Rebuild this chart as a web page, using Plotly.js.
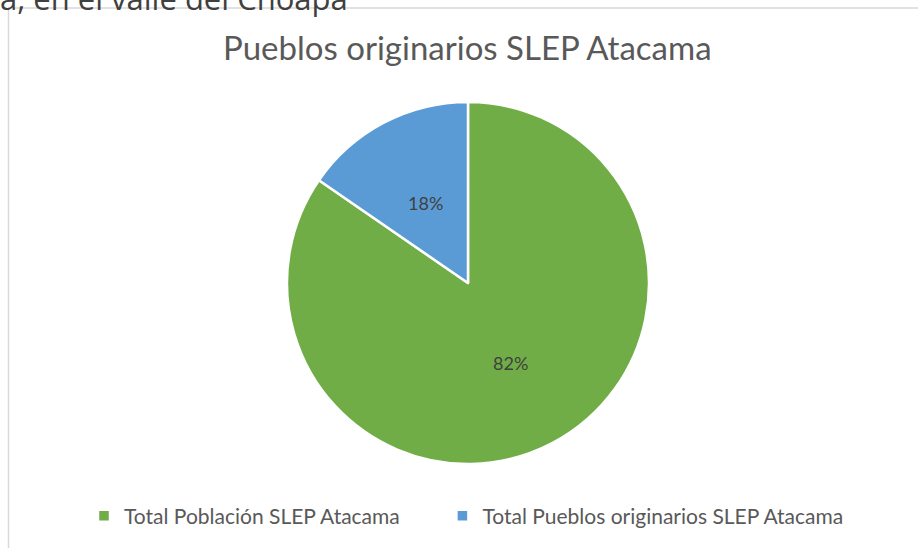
<!DOCTYPE html>
<html>
<head>
<meta charset="utf-8">
<script src="https://cdn.plot.ly/plotly-3.0.1.min.js"></script>
<style>
  html, body { margin: 0; padding: 0; background: #fff; }
  #chart { width: 918px; height: 548px; }
</style>
</head>
<body>
<div id="chart"></div>
<script>
// slice shares as drawn, and the labels printed on the slices
var categories = ['Total Población SLEP Atacama', 'Total Pueblos originarios SLEP Atacama'];
var shares = [84.6, 15.4];
var sliceLabels = ['82%', '18%'];
var colors = ['#70AD47', '#5B9BD5'];

var W = 918, H = 548;
var pieDomX = [0.3126, 0.7070], pieDomY = [0.1533, 0.8139];

// wider gap between the two legend entries, as in the original
var pad = '\u00a0\u00a0\u00a0\u00a0\u00a0\u00a0\u00a0';
var legendLabels = categories.map(function (c, i) {
    return i < categories.length - 1 ? c + pad : c;
});

var trace = {
    type: 'pie',
    labels: legendLabels,
    values: shares,
    textinfo: 'none',
    hoverinfo: 'none',
    sort: false,
    direction: 'clockwise',
    rotation: 0,
    marker: { colors: colors, line: { color: '#ffffff', width: 2.5 } },
    domain: { x: pieDomX, y: pieDomY }
};

// slice labels at half the radius, on each slice's middle angle
var cx = (pieDomX[0] + pieDomX[1]) / 2 * W;
var cy = (pieDomY[0] + pieDomY[1]) / 2 * H;
var rad = Math.min((pieDomX[1] - pieDomX[0]) * W, (pieDomY[1] - pieDomY[0]) * H) / 2;
var total = shares.reduce(function (a, b) { return a + b; }, 0);
var annotations = [];
var start = 0;
for (var i = 0; i < shares.length; i++) {
    var mid = (start + shares[i] / 2) / total * 2 * Math.PI;
    start += shares[i];
    annotations.push({
        text: sliceLabels[i], showarrow: false, xref: 'paper', yref: 'paper',
        x: (cx + 0.5 * rad * Math.sin(mid)) / W,
        y: (cy + 0.5 * rad * Math.cos(mid)) / H,
        font: { family: 'Lato', size: 18, color: '#404040' }
    });
}

// line of the surrounding document, cut by the chart frame
annotations.push({
    text: 'a, en el valle del Choapa', xref: 'paper', yref: 'paper', showarrow: false,
    x: -2 / W, xanchor: 'left', y: 1 - 21 / H, yanchor: 'bottom',
    font: { family: 'Open Sans', size: 31, color: '#404040' }
});

var layout = {
    width: W,
    height: H,
    margin: { l: 0, r: 0, t: 0, b: 0 },
    paper_bgcolor: '#ffffff',
    title: {
        text: 'Pueblos originarios SLEP Atacama',
        font: { family: 'Lato', size: 33, color: '#595959' },
        x: 0.509, xanchor: 'center',
        y: 0.912, yanchor: 'middle'
    },
    showlegend: true,
    legend: {
        orientation: 'h',
        x: 0.0915, xanchor: 'left',
        y: 0.058, yanchor: 'middle',
        font: { family: 'Lato', size: 21, color: '#595959' },
        itemwidth: 30
    },
    shapes: [
        { type: 'line', xref: 'paper', yref: 'paper', x0: 8.5 / W, x1: 8.5 / W, y0: 0, y1: 1 - 8 / H,
          line: { color: '#d9d9d9', width: 1.5 } },
        { type: 'line', xref: 'paper', yref: 'paper', x0: 8 / W, x1: 1, y0: 1 - 8 / H, y1: 1 - 8 / H,
          line: { color: '#d9d9d9', width: 1.5 } }
    ],
    annotations: annotations
};

Plotly.newPlot('chart', [trace], layout, { staticPlot: true });
</script>
</body>
</html>
